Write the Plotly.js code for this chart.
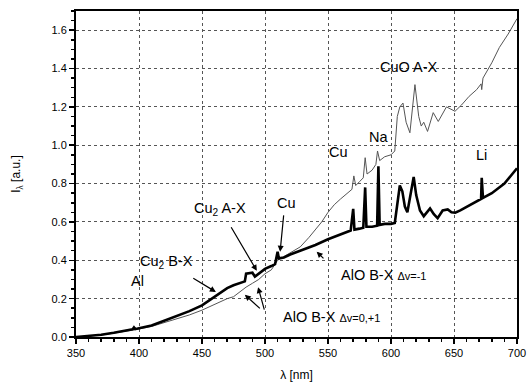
<!DOCTYPE html>
<html>
<head>
<meta charset="utf-8">
<script src="https://cdn.plot.ly/plotly-3.0.1.min.js"></script>
<style>html,body{margin:0;padding:0;background:#fff;}#chart{width:531px;height:387px;}</style>
</head>
<body>
<div id="chart"></div>
<script>
// Thick black spectrum
const lamThick = [350,360,370,380,390,395,396,397,400,410,420,430,440,450,460,465,470,475,480,484,485,490,492,495,500,505,508,510,511,515,520,530,540,550,560,568,570,571,575,578,579.5,580.5,585,589,590,591,595,600,603,605,607,609,611,613,616,618,620,623,626,631,634,637,641,645,648,651,655,662,670,671.5,672,673,680,690,700];
const intThick = [0.0,0.005,0.012,0.022,0.033,0.04,0.05,0.041,0.046,0.06,0.085,0.108,0.135,0.165,0.21,0.235,0.255,0.27,0.283,0.29,0.33,0.335,0.315,0.33,0.355,0.37,0.38,0.445,0.41,0.415,0.43,0.455,0.48,0.51,0.535,0.555,0.668,0.56,0.565,0.57,0.78,0.575,0.575,0.58,0.89,0.585,0.59,0.59,0.595,0.7,0.79,0.76,0.68,0.65,0.76,0.835,0.74,0.66,0.63,0.67,0.64,0.62,0.66,0.665,0.65,0.648,0.66,0.684,0.712,0.72,0.83,0.725,0.75,0.8,0.88];
// Thin grey spectrum
const lamThin = [350,360,370,380,390,400,410,420,430,440,450,460,470,475,480,485,490,495,500,505,510,515,520,528,535,540,545,550,555,560,565,569,570.5,572,575,578,579.5,581,585,588,589.3,591,595,600,603,605,607,609.5,612,615,619,622,624,626,629,633.5,637.5,644,650.8,656,662,668,671.5,672,673,680,686,693,700];
const intThin = [0.0,0.004,0.01,0.02,0.03,0.042,0.055,0.075,0.092,0.115,0.14,0.17,0.2,0.21,0.235,0.26,0.28,0.3,0.33,0.35,0.4,0.42,0.44,0.47,0.52,0.56,0.6,0.65,0.69,0.72,0.75,0.77,0.84,0.79,0.81,0.83,0.935,0.85,0.87,0.9,0.97,0.92,0.94,0.95,0.97,1.15,1.2,1.22,1.12,1.065,1.316,1.15,1.1,1.12,1.072,1.17,1.124,1.2,1.177,1.21,1.255,1.29,1.32,1.29,1.35,1.43,1.51,1.58,1.66];
// Axis ticks
const xTicks = [350,400,450,500,550,600,650,700];
const yTicks = [0.0,0.2,0.4,0.6,0.8,1.0,1.2,1.4,1.6];
const yTickLabels = ['0.0','0.2','0.4','0.6','0.8','1.0','1.2','1.4','1.6'];

const FONT = 'Liberation Sans, Arial, sans-serif';

const traces = [
  {x: lamThin, y: intThin, mode: 'lines', line: {color: '#555', width: 1}, hoverinfo: 'skip'},
  {x: lamThick, y: intThick, mode: 'lines', line: {color: '#000', width: 2.6}, hoverinfo: 'skip'}
];

function label(text, x, y, extra) {
  return Object.assign({text: text, x: x, y: y, xref: 'x', yref: 'y', showarrow: false,
    font: {family: FONT, size: 14.5, color: '#000'}}, extra || {});
}
function arrow(x0, y0, x1, y1) {
  return {text: ' ', x: x1, y: y1, ax: x0, ay: y0, xref: 'x', yref: 'y', axref: 'x', ayref: 'y',
    font: {size: 2}, showarrow: true, arrowhead: 2, arrowsize: 1, arrowwidth: 1.2, arrowcolor: '#000', standoff: 0};
}

const annotations = [
  label('Al', 399, 0.29),
  label('Cu<sub>2</sub> B-X', 422, 0.39),
  arrow(441.5, 0.313, 461, 0.235),
  label('Cu<sub>2</sub> A-X', 464, 0.665),
  arrow(472, 0.585, 493.5, 0.345),
  label('Cu', 517, 0.70),
  arrow(515, 0.647, 512, 0.445),
  label('AlO B-X <span style="font-size:11px">\u0394v=-1</span>', 594, 0.325),
  arrow(548, 0.40, 541, 0.445),
  label('AlO B-X <span style="font-size:11px">\u0394v=0,+1</span>', 553, 0.104),
  arrow(497.5, 0.14, 484, 0.22),
  arrow(500, 0.13, 494.5, 0.26),
  label('Cu', 558, 0.965),
  label('Na', 590, 1.045),
  label('CuO A-X', 614, 1.41),
  label('Li', 672, 0.95)
];

const layout = {
  width: 531, height: 387,
  margin: {l: 76, r: 14, t: 11, b: 50},
  paper_bgcolor: '#fff', plot_bgcolor: '#fff',
  showlegend: false,
  font: {family: FONT, size: 11, color: '#000'},
  xaxis: {
    range: [350, 700], tickvals: xTicks, ticktext: xTicks.map(String),
    showline: true, linecolor: '#000', linewidth: 2, mirror: true,
    ticks: 'outside', ticklen: 5, tickwidth: 1.5, tickcolor: '#000',
    minor: {dtick: 10, tick0: 350, ticks: 'outside', ticklen: 3, tickcolor: '#000', showgrid: false},
    showgrid: true, gridcolor: '#555', griddash: 'dot', gridwidth: 1,
    zeroline: false, tickfont: {family: FONT, size: 11, color: '#000'},
    title: {text: '\u03bb [nm]', font: {family: FONT, size: 12, color: '#000'}, standoff: 12}
  },
  yaxis: {
    range: [0, 1.7], tickvals: yTicks, ticktext: yTickLabels,
    showline: true, linecolor: '#000', linewidth: 2, mirror: true,
    ticks: 'outside', ticklen: 5, tickwidth: 1.5, tickcolor: '#000',
    minor: {dtick: 0.05, tick0: 0, ticks: 'outside', ticklen: 3, tickcolor: '#000', showgrid: false},
    showgrid: true, gridcolor: '#555', griddash: 'dot', gridwidth: 1,
    zeroline: false, tickfont: {family: FONT, size: 11, color: '#000'},
    title: {text: 'I<sub>\u03bb</sub> [a.u.]', font: {family: FONT, size: 12, color: '#000'}, standoff: 28}
  },
  annotations: annotations
};

Plotly.newPlot('chart', traces, layout, {staticPlot: true, displayModeBar: false});
</script>
</body>
</html>
